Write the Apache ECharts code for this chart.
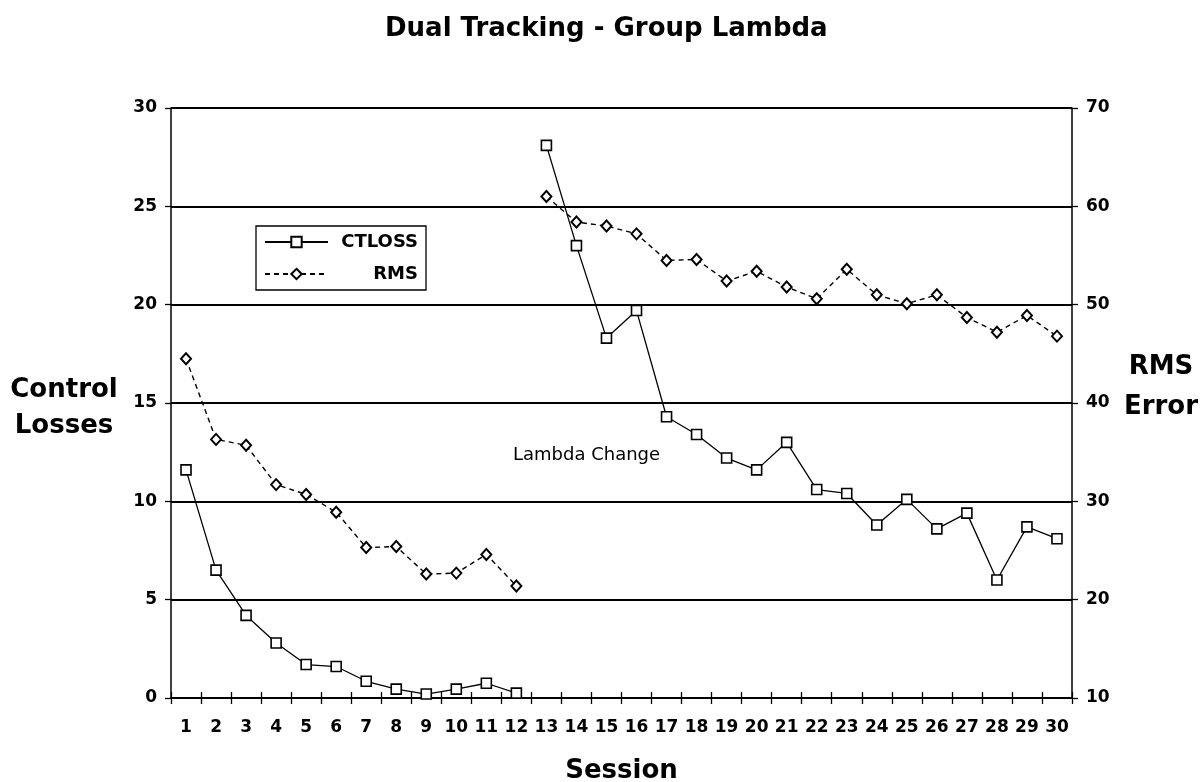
<!DOCTYPE html>
<html>
<head>
<meta charset="utf-8">
<title>Dual Tracking - Group Lambda</title>
<script src="https://cdn.jsdelivr.net/npm/echarts@6/dist/echarts.min.js"></script>
<style>
  html, body { margin: 0; padding: 0; background: #fff; }
</style>
</head>
<body>
<!-- chart container -->
<div id="main" style="width: 1200px;height: 782px;"></div>
<script>
// sessions on the x axis
var sessions = ['1', '2', '3', '4', '5', '6', '7', '8', '9', '10',
  '11', '12', '13', '14', '15', '16', '17', '18', '19', '20',
  '21', '22', '23', '24', '25', '26', '27', '28', '29', '30']
// control losses (left axis)
var ctloss = [11.6, 6.5, 4.2, 2.8, 1.7, 1.6, 0.85, 0.45, 0.2, 0.45, 0.75, 0.25,
  28.1, 23.0, 18.3, 19.7, 14.3, 13.4, 12.2, 11.6, 13.0, 10.6, 10.4, 8.8, 10.1, 8.6, 9.4, 6.0, 8.7, 8.1]
// rms error (right axis)
var rms = [44.5, 36.3, 35.7, 31.7, 30.7, 28.9, 25.3, 25.4, 22.6, 22.7, 24.6, 21.4,
  61.0, 58.4, 58.0, 57.2, 54.5, 54.6, 52.4, 53.4, 51.8, 50.6, 53.6, 51.0, 50.1, 51.0, 48.7, 47.2, 48.9, 46.8]
// lines break after this many sessions
var lambdaChangeAfter = 12
var leftTicks = [0, 30, 5]
var rightTicks = [10, 70, 10]

var FONT = 'DejaVu Sans'

// split a series into before / after the lambda change
function before(arr) {
  return arr.map(function (v, i) { return i < lambdaChangeAfter ? v : null })
}
function after(arr) {
  return arr.map(function (v, i) { return i >= lambdaChangeAfter ? v : null })
}

var myChart = echarts.init(document.getElementById('main'))

var squareStyle = { color: '#fff', borderColor: '#000', borderWidth: 1.6 }
var solidLine = { color: '#000', width: 1.3, type: 'solid' }
var dashLine = { color: '#000', width: 1.4, type: [5, 4] }
var nameFont = { fontFamily: FONT, fontWeight: 'bold', fontSize: 26, fill: '#000', align: 'center', verticalAlign: 'top' }

function ctSeries(data) {
  return {
    name: 'CTLOSS',
    type: 'line',
    yAxisIndex: 0,
    data: data,
    symbol: 'rect',
    symbolSize: 10,
    showAllSymbol: true,
    itemStyle: squareStyle,
    lineStyle: solidLine,
    z: 3,
    animation: false
  }
}
function rmsSeries(data) {
  return {
    name: 'RMS',
    type: 'line',
    yAxisIndex: 1,
    data: data,
    symbol: 'diamond',
    symbolSize: [10, 11],
    showAllSymbol: true,
    itemStyle: { color: '#fff', borderColor: '#000', borderWidth: 2 },
    lineStyle: dashLine,
    z: 3,
    animation: false
  }
}

var option = {
  backgroundColor: '#fff',
  animation: false,
  title: {
    text: 'Dual Tracking - Group Lambda',
    left: 380,
    top: 11,
    textStyle: { fontFamily: FONT, fontWeight: 'bold', fontSize: 26, color: '#000' }
  },
  legend: {
    data: ['CTLOSS', 'RMS'],
    orient: 'vertical',
    left: 256,
    top: 226,
    padding: [7, 8, 7, 8],
    itemGap: 14,
    itemWidth: 63,
    itemHeight: 13,
    borderColor: '#000',
    borderWidth: 1.3,
    borderRadius: 0,
    backgroundColor: '#fff',
    formatter: function (name) { return '{n|' + name + '}' },
    textStyle: {
      rich: {
        n: { width: 85, align: 'right', fontFamily: FONT, fontWeight: 'bold', fontSize: 18, color: '#000' }
      }
    }
  },
  // keep the plot box fixed, names sit outside it
  grid: { left: 171, right: 128, top: 108, bottom: 84, outerBoundsMode: 'none' },
  xAxis: [
    {
      type: 'category',
      data: sessions,
      boundaryGap: true,
      name: 'Session',
      nameLocation: 'middle',
      nameGap: 60,
      nameTextStyle: { fontFamily: FONT, fontWeight: 'bold', fontSize: 26, color: '#000' },
      axisLine: { lineStyle: { color: '#000', width: 1.5 } },
      axisTick: { show: true, inside: false, length: 6, interval: 0, lineStyle: { color: '#000', width: 1.3 } },
      axisLabel: { interval: 0, margin: 21, fontFamily: FONT, fontWeight: 'bold', fontSize: 17, color: '#000' },
      splitLine: { show: false }
    },
    {
      // second copy only for the upward half of the crossing ticks
      type: 'category',
      data: sessions,
      position: 'bottom',
      boundaryGap: true,
      axisLine: { show: false },
      axisTick: { show: true, inside: true, length: 6, interval: 0, lineStyle: { color: '#000', width: 1.3 } },
      axisLabel: { show: false },
      splitLine: { show: false }
    }
  ],
  yAxis: [
    {
      type: 'value',
      min: leftTicks[0],
      max: leftTicks[1],
      interval: leftTicks[2],
      axisLine: { show: true, lineStyle: { color: '#000', width: 1.5 } },
      axisTick: { show: true, length: 6, lineStyle: { color: '#000', width: 1.3 } },
      axisLabel: { margin: 14, fontFamily: FONT, fontWeight: 'bold', fontSize: 17, color: '#000' },
      splitLine: { show: true, lineStyle: { color: '#000', width: 2.2 } }
    },
    {
      type: 'value',
      position: 'right',
      min: rightTicks[0],
      max: rightTicks[1],
      interval: rightTicks[2],
      axisLine: { show: true, lineStyle: { color: '#000', width: 1.5 } },
      axisTick: { show: true, length: 6, lineStyle: { color: '#000', width: 1.3 } },
      axisLabel: { margin: 14, fontFamily: FONT, fontWeight: 'bold', fontSize: 17, color: '#000' },
      splitLine: { show: false }
    }
  ],
  graphic: [
    // y axis titles, placed by hand beside the axes
    {
      type: 'text',
      x: 64,
      y: 372,
      style: Object.assign({ text: 'Control\nLosses', lineHeight: 36 }, nameFont)
    },
    {
      type: 'text',
      x: 1161,
      y: 347,
      style: Object.assign({ text: 'RMS\nError', lineHeight: 40 }, nameFont)
    },
    // annotation in the middle of the plot
    {
      type: 'text',
      left: 513,
      top: 446,
      style: { text: 'Lambda Change', fontFamily: FONT, fontSize: 18, fill: '#000' }
    }
  ],
  series: [
    ctSeries(before(ctloss)),
    ctSeries(after(ctloss)),
    rmsSeries(before(rms)),
    rmsSeries(after(rms))
  ]
}

myChart.setOption(option)
</script>
</body>
</html>
